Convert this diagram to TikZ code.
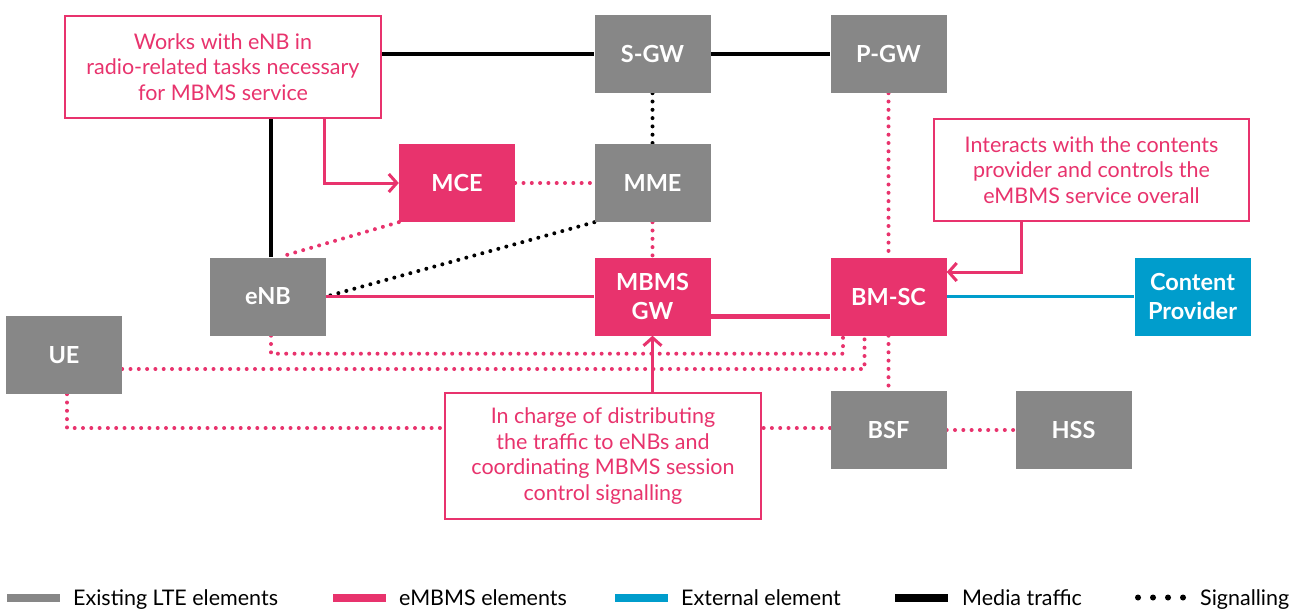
\documentclass[tikz,border=0pt]{standalone}
\usepackage{fontspec}
\setmainfont{Lato}
\usetikzlibrary{arrows.meta,calc,backgrounds}
\definecolor{emb}{HTML}{E8336D}
\definecolor{lte}{HTML}{878787}
\definecolor{ext}{HTML}{009DCC}
\begin{document}
\begin{tikzpicture}[x=1pt,y=-1pt,
  elem/.style={minimum width=116pt,minimum height=78pt,inner sep=0pt,text=white,font=\fontsize{23.5}{29}\selectfont\bfseries,align=center},
  ltebox/.style={elem,fill=lte},
  embbox/.style={elem,fill=emb},
  extbox/.style={elem,fill=ext},
  callout/.style={draw=emb,line width=2.5pt,fill=white,text=emb,inner sep=0pt,font=\fontsize{21.5}{25.5}\selectfont,align=center},
  media/.style={draw=black,line width=4pt},
  sigp/.style={draw=emb,line width=4pt,line cap=round,dash pattern=on 0pt off 8.3pt},
  sigk/.style={draw=black,line width=4pt,line cap=round,dash pattern=on 0pt off 8.3pt},
  note/.style={draw=emb,line width=3pt,-{Straight Barb[length=8pt,width=18pt]}},
  legtext/.style={anchor=base west,inner sep=0pt,font=\fontsize{21.5}{24}\selectfont},
  legbar/.style={minimum width=53pt,minimum height=8pt,inner sep=0pt,anchor=west},
  legdot/.style={circle,fill=black,minimum size=6pt,inner sep=0pt},
]
\useasboundingbox (0,0) rectangle (1305,608);

% elements
\node[ltebox] (sgw) at (652.5,54) {S-GW};
\node[ltebox] (pgw) at (888.5,54) {P-GW};
\node[embbox] (mce) at (457,183) {MCE};
\node[ltebox] (mme) at (652.5,183) {MME};
\node[ltebox] (enb) at (268,296.5) {eNB};
\node[embbox] (mbms) at (652.5,296.5) {MBMS\\GW};
\node[embbox] (bmsc) at (888.5,296.5) {BM-SC};
\node[extbox] (cp) at (1192.5,296.5) {Content\\Provider};
\node[ltebox] (ue) at (64,355) {UE};
\node[ltebox] (bsf) at (888.5,430) {BSF};
\node[ltebox] (hss) at (1073.5,430) {HSS};

% callouts
\node[callout,minimum width=316pt,minimum height=102pt] (c1) at (223,67)
  {Works with eNB in\\radio-related tasks necessary\\for MBMS service};
\node[callout,minimum width=315pt,minimum height=102pt] (c2) at (1091.5,170)
  {Interacts with the contents\\provider and controls the\\eMBMS service overall};
\node[callout,minimum width=316pt,minimum height=126pt] (c3) at (603,456)
  {In charge of distributing\\the traffic to eNBs and\\coordinating MBMS session\\control signalling};

% helper points
\coordinate (enbTop) at ($(enb.north)+(3,0)$);
\coordinate (enbTop2) at ($(enb.north)+(14,-1)$);
\coordinate (enbBot) at ($(enb.south)+(3,0)$);
\coordinate (enbBotD) at ($(enb.south)+(3,18)$);
\coordinate (bmscB1) at ($(bmsc.south)+(-45.5,0)$);
\coordinate (bmscB2) at ($(bmsc.south)+(-24,0)$);
\coordinate (ueR) at ($(ue.east)+(0,14)$);
\coordinate (ueB) at ($(ue.south)+(3,0)$);
\coordinate (bsfL) at ($(bsf.west)+(0,-2)$);
\coordinate (mbmsR) at ($(mbms.east)+(0,19.5)$);
\coordinate (bmscL) at ($(bmsc.west)+(0,19.5)$);
\coordinate (c1a) at ($(c1.south)+(101,0)$);
\coordinate (c2a) at ($(c2.south)+(-70,0)$);
\coordinate (bmscR) at ($(bmsc.east)+(0,-24.5)$);

\begin{scope}[on background layer]
  % media traffic
  \draw[media] (enbTop) |- (sgw.west);
  \draw[media] (sgw.east) -- (pgw.west);
  % signalling
  \draw[sigk] (sgw.south) -- (mme.north);
  \draw[sigp] (mce.east) -- (mme.west);
  \draw[sigp] (mce.south west) -- (enbTop2);
  \draw[sigk] (mme.south west) -- (enb.east);
  \draw[sigp] (mme.south) -- (mbms.north);
  \draw[sigp] (pgw.south) -- (bmsc.north);
  \draw[sigp] (bmsc.south) -- (bsf.north);
  \draw[sigp] (bsf.east) -- (hss.west);
  \draw[sigp] (enbBot) -- (enbBotD) -| (bmscB1);
  \draw[sigp] (ueR) -| (bmscB2);
  \draw[sigp] (ueB) |- (bsfL);
  % user plane
  \draw[draw=emb,line width=2.5pt] (enb.east) -- (mbms.west);
  \draw[draw=emb,line width=5pt] (mbmsR) -- (bmscL);
  \draw[draw=ext,line width=3pt] (bmsc.east) -- (cp.west);
\end{scope}

% callout arrows
\draw[note] (c1a) |- (mce.west);
\draw[note] (c2a) |- (bmscR);
\draw[note] (mbms.south |- c3.north) -- (mbms.south);

% legend
\node[legbar,fill=lte] (l1) at (7,597.5) {};
\node[legtext] (t1) at (73,605) {Existing LTE elements};
\node[legbar,fill=emb] (l2) at (333,597.5) {};
\node[legtext] (t2) at (399,605) {eMBMS elements};
\node[legbar,fill=ext] (l3) at (615,597.5) {};
\node[legtext] (t3) at (681,605) {External element};
\node[legbar,fill=black] (l4) at (895,597.5) {};
\node[legtext] (t4) at (962,605) {Media traffic};
\node[legdot] (d1) at (1138,597.5) {};
\node[legdot] (d2) at (1153,597.5) {};
\node[legdot] (d3) at (1168,597.5) {};
\node[legdot] (d4) at (1183,597.5) {};
\node[legtext] (t5) at (1200,605) {Signalling};
\end{tikzpicture}
\end{document}
